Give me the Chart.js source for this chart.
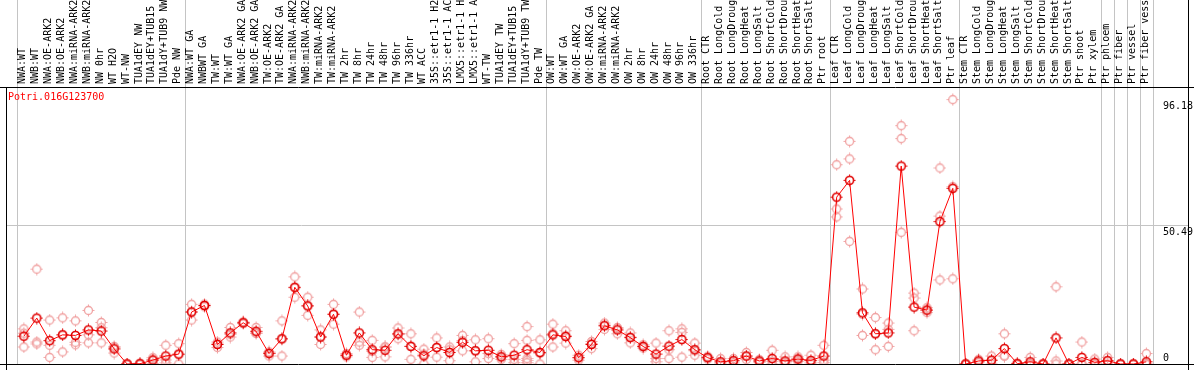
<!DOCTYPE html>
<html>
<head>
<meta charset="utf-8">
<script src="https://cdn.jsdelivr.net/npm/chart.js@4.4.0/dist/chart.umd.min.js"></script>
<style>
  html, body { margin: 0; padding: 0; background: #fff; }
</style>
</head>
<body>
<canvas id="myChart" width="1194" height="370"></canvas>
<script>
const geneName = 'Potri.016G123700';

const categories = [
  'NWA:WT', 'NWB:WT', 'NWA:OE-ARK2', 'NWB:OE-ARK2', 'NWA:miRNA-ARK2', 'NWB:miRNA-ARK2',
  'NW 0hr', 'WT H2O', 'WT-NW', 'TUA1dEY NW', 'TUA1dEY+TUB15', 'TUA1dY+TUB9 NW', 'Pde NW',
  'NWA:WT GA', 'NWBWT GA', 'TW:WT', 'TW:WT GA', 'NWA:OE-ARK2 GA', 'NWB:OE-ARK2 GA',
  'TW:OE-ARK2', 'TW:OE-ARK2 GA', 'NWA:miRNA-ARK2', 'NWB:miRNA-ARK2', 'TW:miRNA-ARK2',
  'TW:miRNA-ARK2', 'TW 2hr', 'TW 8hr', 'TW 24hr', 'TW 48hr', 'TW 96hr', 'TW 336hr',
  'WT ACC', '35S::etr1-1 H2', '35S::etr1-1 AC', 'LMX5::etr1-1 H', 'LMX5::etr1-1 A',
  'WT-TW', 'TUA1dEY TW', 'TUA1dEY+TUB15', 'TUA1dY+TUB9 TW', 'Pde TW',
  'OW:WT', 'OW:WT GA', 'OW:OE-ARK2', 'OW:OE-ARK2 GA', 'OW:miRNA-ARK2', 'OW:miRNA-ARK2',
  'OW 2hr', 'OW 8hr', 'OW 24hr', 'OW 48hr', 'OW 96hr', 'OW 336hr',
  'Root CTR', 'Root LongCold', 'Root LongDroug', 'Root LongHeat', 'Root LongSalt',
  'Root ShortCold', 'Root ShortDrou', 'Root ShortHeat', 'Root ShortSalt', 'Ptr root',
  'Leaf CTR', 'Leaf LongCold', 'Leaf LongDroug', 'Leaf LongHeat', 'Leaf LongSalt',
  'Leaf ShortCold', 'Leaf ShortDrou', 'Leaf ShortHeat', 'Leaf ShortSalt', 'Ptr leaf',
  'Stem CTR', 'Stem LongCold', 'Stem LongDroug', 'Stem LongHeat', 'Stem LongSalt',
  'Stem ShortCold', 'Stem ShortDrou', 'Stem ShortHeat', 'Stem ShortSalt',
  'Ptr shoot', 'Ptr xylem', 'Ptr phloem', 'Ptr fiber', 'Ptr vessel', 'Ptr fiber vessel'
];

const meanValues = [
  10.1, 16.7, 8.5, 10.6, 10.4, 12.4, 12.0, 5.5, 0, 0.1, 1.4, 2.9, 3.6,
  18.9, 21.3, 7.1, 11.3, 15.0, 11.9, 3.8, 9.2, 27.9, 21.1, 9.8, 18.1,
  3.2, 11.3, 5.2, 5.0, 11.0, 6.4, 3.0, 6.0, 4.2, 7.9, 4.8, 5.0, 2.6, 3.2, 5.2, 4.2,
  10.6, 10.0, 2.3, 7.1, 13.9, 12.4, 9.6, 6.4, 3.6, 6.5, 8.9, 5.2,
  2.3, 0.8, 1.2, 2.9, 1.1, 2.0, 1.1, 1.8, 1.3, 2.9,
  60.7, 66.8, 18.6, 11.0, 11.3, 72.0, 20.7, 19.6, 51.8, 63.9,
  0, 1.1, 1.4, 5.6, 0.1, 0.8, 0, 9.5, 0,
  2.4, 0.6, 1.2, 0, 0, 0.8
];

const replicateValues = [
  [12.8, 11.2, 6.2], [34.5, 8.0, 7.3], [16.0, 6.8, 2.4], [16.8, 10.6, 4.4],
  [15.7, 7.9, 7.0], [19.5, 10.6, 7.7], [15.1, 13.2, 7.7], [6.4, 6.0, 4.0],
  [0, 0, 0], [0, 0, 0.3], [2.3, 1.7, 0.2], [6.8, 1.5, 0.4], [7.4, 3.4, 0],
  [21.7, 19.0, 16.0], [21.8, 21.3, 20.8], [8.0, 7.3, 6.0], [13.3, 10.8, 9.8],
  [15.3, 15.0, 14.7], [13.3, 11.3, 11.1], [4.4, 4.1, 2.9], [15.7, 9.0, 2.9],
  [31.7, 27.7, 24.3], [24.3, 21.3, 17.7], [12.4, 9.9, 7.1], [21.7, 18.1, 14.5],
  [3.8, 3.2, 2.6], [18.9, 8.0, 6.8], [8.6, 4.6, 2.4], [6.2, 6.2, 2.6],
  [13.1, 10.7, 9.2], [11.0, 6.5, 1.7], [5.4, 3.6, 0], [9.5, 6.0, 2.5],
  [6.2, 5.2, 1.2], [10.4, 8.5, 4.8], [8.8, 4.8, 0.8], [9.2, 3.8, 2.0],
  [3.5, 2.6, 1.7], [7.4, 1.7, 0.5], [13.6, 8.6, 2.0, 1.3, 0.5], [8.8, 3.8, 0],
  [14.5, 11.1, 6.2], [12.1, 10.3, 7.6], [3.2, 2.3, 1.4], [8.2, 7.5, 5.6],
  [14.9, 14.2, 12.6], [13.3, 12.9, 11.0], [11.3, 9.8, 7.7], [7.0, 6.4, 5.8],
  [7.6, 2.0, 0.8], [12.1, 5.2, 2.0], [12.8, 11.5, 2.5], [7.6, 4.8, 3.2],
  [2.8, 2.3, 1.8], [2.0, 0.4, 0], [2.0, 1.2, 0.4], [4.2, 2.9, 1.6],
  [1.6, 1.1, 0.6], [5.0, 1.0, 0], [2.6, 0.7, 0], [2.6, 1.8, 1.0],
  [3.2, 0.7, 0], [6.8, 1.4, 0.5],
  [72.5, 56.4, 53.5], [81.0, 74.6, 44.6], [27.3, 18.1, 10.4], [16.9, 11.0, 5.2],
  [14.9, 12.6, 6.4], [86.7, 82.0, 47.9], [25.8, 24.0, 12.1], [20.5, 19.6, 18.7],
  [71.3, 53.8, 30.6], [96.18, 64.5, 31.0],
  [0, 0, 0], [1.7, 1.1, 0.5], [2.9, 1.3, 0], [11.0, 2.9, 2.9], [0.3, 0, 0],
  [2.4, 0, 0], [0, 0, 0], [28.1, 1.1, 0], [0, 0, 0],
  [8.0, 0, 0], [1.8, 0, 0], [2.4, 1.2, 0], [0, 0, 0], [0, 0, 0], [3.8, 0, 0]
];

const yTickValues = [0, 50.49, 96.18];
// borders between sample groups (in category units)
const groupBreaks = [-0.5, 12.5, 40.5, 52.5, 62.5, 72.5, 83.5, 84.5, 85.5, 86.5, 87.5];

function makeMarker(color, lw) {
  const c = document.createElement('canvas');
  c.width = 13; c.height = 13;
  const g = c.getContext('2d');
  g.strokeStyle = color;
  g.lineWidth = lw;
  g.beginPath();
  g.arc(6.5, 6.5, 4, 0, Math.PI * 2);
  g.stroke();
  g.lineWidth = 1;
  g.beginPath();
  g.moveTo(6.5, 0.5); g.lineTo(6.5, 2.5);
  g.moveTo(6.5, 10.5); g.lineTo(6.5, 12.5);
  g.moveTo(0.5, 6.5); g.lineTo(2.5, 6.5);
  g.moveTo(10.5, 6.5); g.lineTo(12.5, 6.5);
  g.stroke();
  return c;
}

const repPoints = [];
replicateValues.forEach((vals, i) => {
  vals.forEach(v => repPoints.push({ x: i, y: v }));
});
const meanPoints = meanValues.map((v, i) => ({ x: i, y: v }));

const decor = {
  id: 'decor',
  beforeDatasetsDraw(chart) {
    const ctx = chart.ctx;
    const xs = chart.scales.x, ys = chart.scales.y;
    const a = chart.chartArea;
    ctx.save();
    ctx.strokeStyle = '#c4c4c4';
    ctx.lineWidth = 1;
    groupBreaks.forEach(b => {
      const x = Math.round(xs.getPixelForValue(b)) + 0.5;
      ctx.beginPath();
      ctx.moveTo(x, 0);
      ctx.lineTo(x, a.bottom);
      ctx.stroke();
    });
    const gy = Math.round(ys.getPixelForValue(yTickValues[1])) + 0.5;
    ctx.beginPath();
    ctx.moveTo(a.left, gy);
    ctx.lineTo(a.right, gy);
    ctx.stroke();
    ctx.restore();
  },
  afterDatasetsDraw(chart) {
    const ctx = chart.ctx;
    const xs = chart.scales.x, ys = chart.scales.y;
    const a = chart.chartArea;
    ctx.save();
    // frame
    ctx.strokeStyle = '#000';
    ctx.lineWidth = 1;
    ctx.beginPath();
    ctx.moveTo(0, a.top - 0.5); ctx.lineTo(1194, a.top - 0.5);
    ctx.moveTo(a.left + 0.5, a.top); ctx.lineTo(a.left + 0.5, 370);
    ctx.moveTo(a.right + 0.5, 0); ctx.lineTo(a.right + 0.5, 370);
    ctx.moveTo(0, a.bottom + 0.5); ctx.lineTo(1194, a.bottom + 0.5);
    ctx.stroke();

    // sample names, rotated
    ctx.fillStyle = '#000';
    ctx.font = '10px "DejaVu Sans Mono"';
    ctx.textAlign = 'left';
    ctx.textBaseline = 'middle';
    categories.forEach((name, i) => {
      const x = xs.getPixelForValue(i) - 1;
      ctx.save();
      ctx.translate(x, a.top - 4);
      ctx.rotate(-Math.PI / 2);
      ctx.fillText(name, 0, 0);
      ctx.restore();
    });

    // y tick labels inside the plot, right side
    yTickValues.forEach(v => {
      const y = ys.getPixelForValue(v);
      if (v === 0) {
        ctx.textBaseline = 'bottom';
        ctx.fillText(String(v), 1163, y - 1);
      } else {
        ctx.textBaseline = 'top';
        ctx.fillText(v.toFixed(2), 1163, y + 2);
      }
    });

    ctx.fillStyle = '#ff0000';
    ctx.textBaseline = 'middle';
    ctx.fillText(geneName, 8, 97);
    ctx.restore();
  }
};

new Chart(document.getElementById('myChart'), {
  type: 'line',
  data: {
    datasets: [
      {
        label: 'mean',
        data: meanPoints,
        borderColor: '#ff0000',
        borderWidth: 1,
        pointStyle: makeMarker('#e00000', 1.6),
        pointRadius: 5,
        tension: 0,
        clip: 0,
        order: 1
      },
      {
        label: 'replicates',
        data: repPoints,
        showLine: false,
        pointStyle: makeMarker('#f0a0a0', 1.3),
        pointRadius: 5,
        clip: 0,
        order: 2
      }
    ]
  },
  options: {
    responsive: false,
    animation: false,
    layout: { padding: { top: 88, left: 1, right: 2, bottom: 1 } },
    plugins: { legend: { display: false }, tooltip: { enabled: false } },
    scales: {
      x: { type: 'linear', display: false, min: -1.385, max: 90.23 },
      y: { type: 'linear', display: false, min: 0, max: 100.4 }
    }
  },
  plugins: [decor]
});
</script>
</body>
</html>
